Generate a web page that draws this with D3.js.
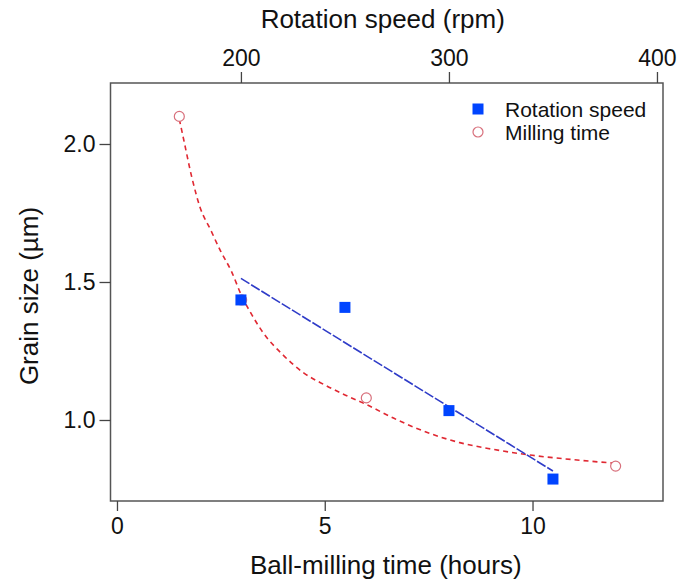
<!DOCTYPE html>
<html>
<head>
<meta charset="utf-8">
<style>
  body { margin: 0; background: #fff; }
  text { font-family: "Liberation Sans", Arial, sans-serif; fill: #111; }
</style>
</head>
<body>
<svg id="chart" width="678" height="581"></svg>
<script src="https://d3js.org/d3.v7.min.js"></script>
<script>

// milling time series (bottom axis, hours)
var millingHours = [1.5, 3, 6, 12];
var millingSize = [2.10, 1.435, 1.08, 0.833];

// rotation speed series (top axis, rpm)
var speedRpm = [200, 250, 300, 350];
var speedSize = [1.435, 1.408, 1.034, 0.786];

// linear fit through rotation speed points
var speedFitRpm = [200, 350];
var speedFitSize = [1.513, 0.815];

// decay fit through milling time points
var timeFitHours = [1.5, 1.6, 1.8, 2.0, 2.25, 2.5, 2.75, 3.0, 3.25, 3.5, 4.0, 4.5, 5.0, 5.5, 6.0, 6.75, 7.5, 8.25, 9.0, 10.0, 11.0, 12.0];
var timeFitSize = [2.09, 2.02, 1.88, 1.77, 1.69, 1.61, 1.54, 1.45, 1.38, 1.32, 1.235, 1.17, 1.127, 1.09, 1.056, 1.0, 0.953, 0.918, 0.895, 0.872, 0.856, 0.843];

var bottomTicks = [0, 5, 10];
var topTicks = [200, 300, 400];
var leftTicks = [1.0, 1.5, 2.0];

var svg = d3.select("#chart"),
    box = {left: 110.5, right: 663, top: 83, bottom: 501};

var x = d3.scaleLinear().domain([-0.156, 13.14]).range([box.left, box.right]);
var xTop = d3.scaleLinear().domain([137.3, 402.9]).range([box.left, box.right]);
var y = d3.scaleLinear().domain([0.7065, 2.221]).range([box.bottom, box.top]);

svg.append("rect")
    .attr("width", 678).attr("height", 581).attr("fill", "#fff");

// frame
svg.append("rect")
    .attr("x", box.left).attr("y", box.top)
    .attr("width", box.right - box.left).attr("height", box.bottom - box.top)
    .attr("fill", "none").attr("stroke", "#555").attr("stroke-width", 1.5);

function styleAxis(g) {
  g.select(".domain").remove();
  g.selectAll(".tick line").attr("stroke", "#444").attr("stroke-width", 1.3);
  g.selectAll(".tick text")
      .attr("font-family", "Liberation Sans, Arial, sans-serif")
      .attr("font-size", 23).attr("fill", "#111");
}

svg.append("g")
    .attr("transform", "translate(0," + box.bottom + ")")
    .call(d3.axisBottom(x).tickValues(bottomTicks).tickFormat(d3.format("d")).tickSize(10).tickPadding(7))
    .call(styleAxis);

svg.append("g")
    .attr("transform", "translate(0," + box.top + ")")
    .call(d3.axisTop(xTop).tickValues(topTicks).tickFormat(d3.format("d")).tickSize(11).tickPadding(6))
    .call(styleAxis);

svg.append("g")
    .attr("transform", "translate(" + box.left + ",0)")
    .call(d3.axisLeft(y).tickValues(leftTicks).tickFormat(d3.format(".1f")).tickSize(11).tickPadding(4))
    .call(styleAxis);

// axis titles
svg.append("text")
    .attr("x", (box.left + box.right) / 2 - 4).attr("y", 28)
    .attr("text-anchor", "middle").attr("font-size", 26)
    .text("Rotation speed (rpm)");

svg.append("text")
    .attr("x", (box.left + box.right) / 2 - 1).attr("y", 574)
    .attr("text-anchor", "middle").attr("font-size", 26)
    .text("Ball-milling time (hours)");

svg.append("text")
    .attr("transform", "translate(38," + ((box.top + box.bottom) / 2 + 4) + ") rotate(-90)")
    .attr("text-anchor", "middle").attr("font-size", 26)
    .text("Grain size (µm)");

// fit lines
var fitLine = d3.line().curve(d3.curveMonotoneX);

svg.append("path")
    .datum(d3.zip(timeFitHours, timeFitSize))
    .attr("fill", "none")
    .attr("stroke", "#e02832")
    .attr("stroke-width", 1.6)
    .attr("stroke-dasharray", "5,4")
    .attr("d", fitLine.x(function(d) { return x(d[0]); }).y(function(d) { return y(d[1]); }));

svg.append("path")
    .datum(d3.zip(speedFitRpm, speedFitSize))
    .attr("fill", "none")
    .attr("stroke", "#2f3cc8")
    .attr("stroke-width", 1.6)
    .attr("stroke-dasharray", "10,2")
    .attr("d", d3.line().x(function(d) { return xTop(d[0]); }).y(function(d) { return y(d[1]); }));

// milling time markers
svg.append("g").selectAll("circle")
    .data(d3.zip(millingHours, millingSize))
    .join("circle")
    .attr("cx", function(d) { return x(d[0]); })
    .attr("cy", function(d) { return y(d[1]); })
    .attr("r", 5)
    .attr("fill", "#fff")
    .attr("stroke", "#d8707c")
    .attr("stroke-width", 1.2);

// rotation speed markers
var sq = 11;
svg.append("g").selectAll("rect")
    .data(d3.zip(speedRpm, speedSize))
    .join("rect")
    .attr("x", function(d) { return xTop(d[0]) - sq / 2; })
    .attr("y", function(d) { return y(d[1]) - sq / 2; })
    .attr("width", sq).attr("height", sq)
    .attr("fill", "#0044ff");

// legend
var legend = svg.append("g").attr("transform", "translate(478,0)");
legend.append("rect")
    .attr("x", -sq / 2).attr("y", 109 - sq / 2)
    .attr("width", sq).attr("height", sq).attr("fill", "#0044ff");
legend.append("text")
    .attr("x", 27).attr("y", 117).attr("font-size", 21)
    .text("Rotation speed");
legend.append("circle")
    .attr("cx", 0).attr("cy", 132).attr("r", 5)
    .attr("fill", "#fff").attr("stroke", "#d8707c").attr("stroke-width", 1.2);
legend.append("text")
    .attr("x", 27).attr("y", 140).attr("font-size", 21)
    .text("Milling time");

</script>
</body>
</html>
